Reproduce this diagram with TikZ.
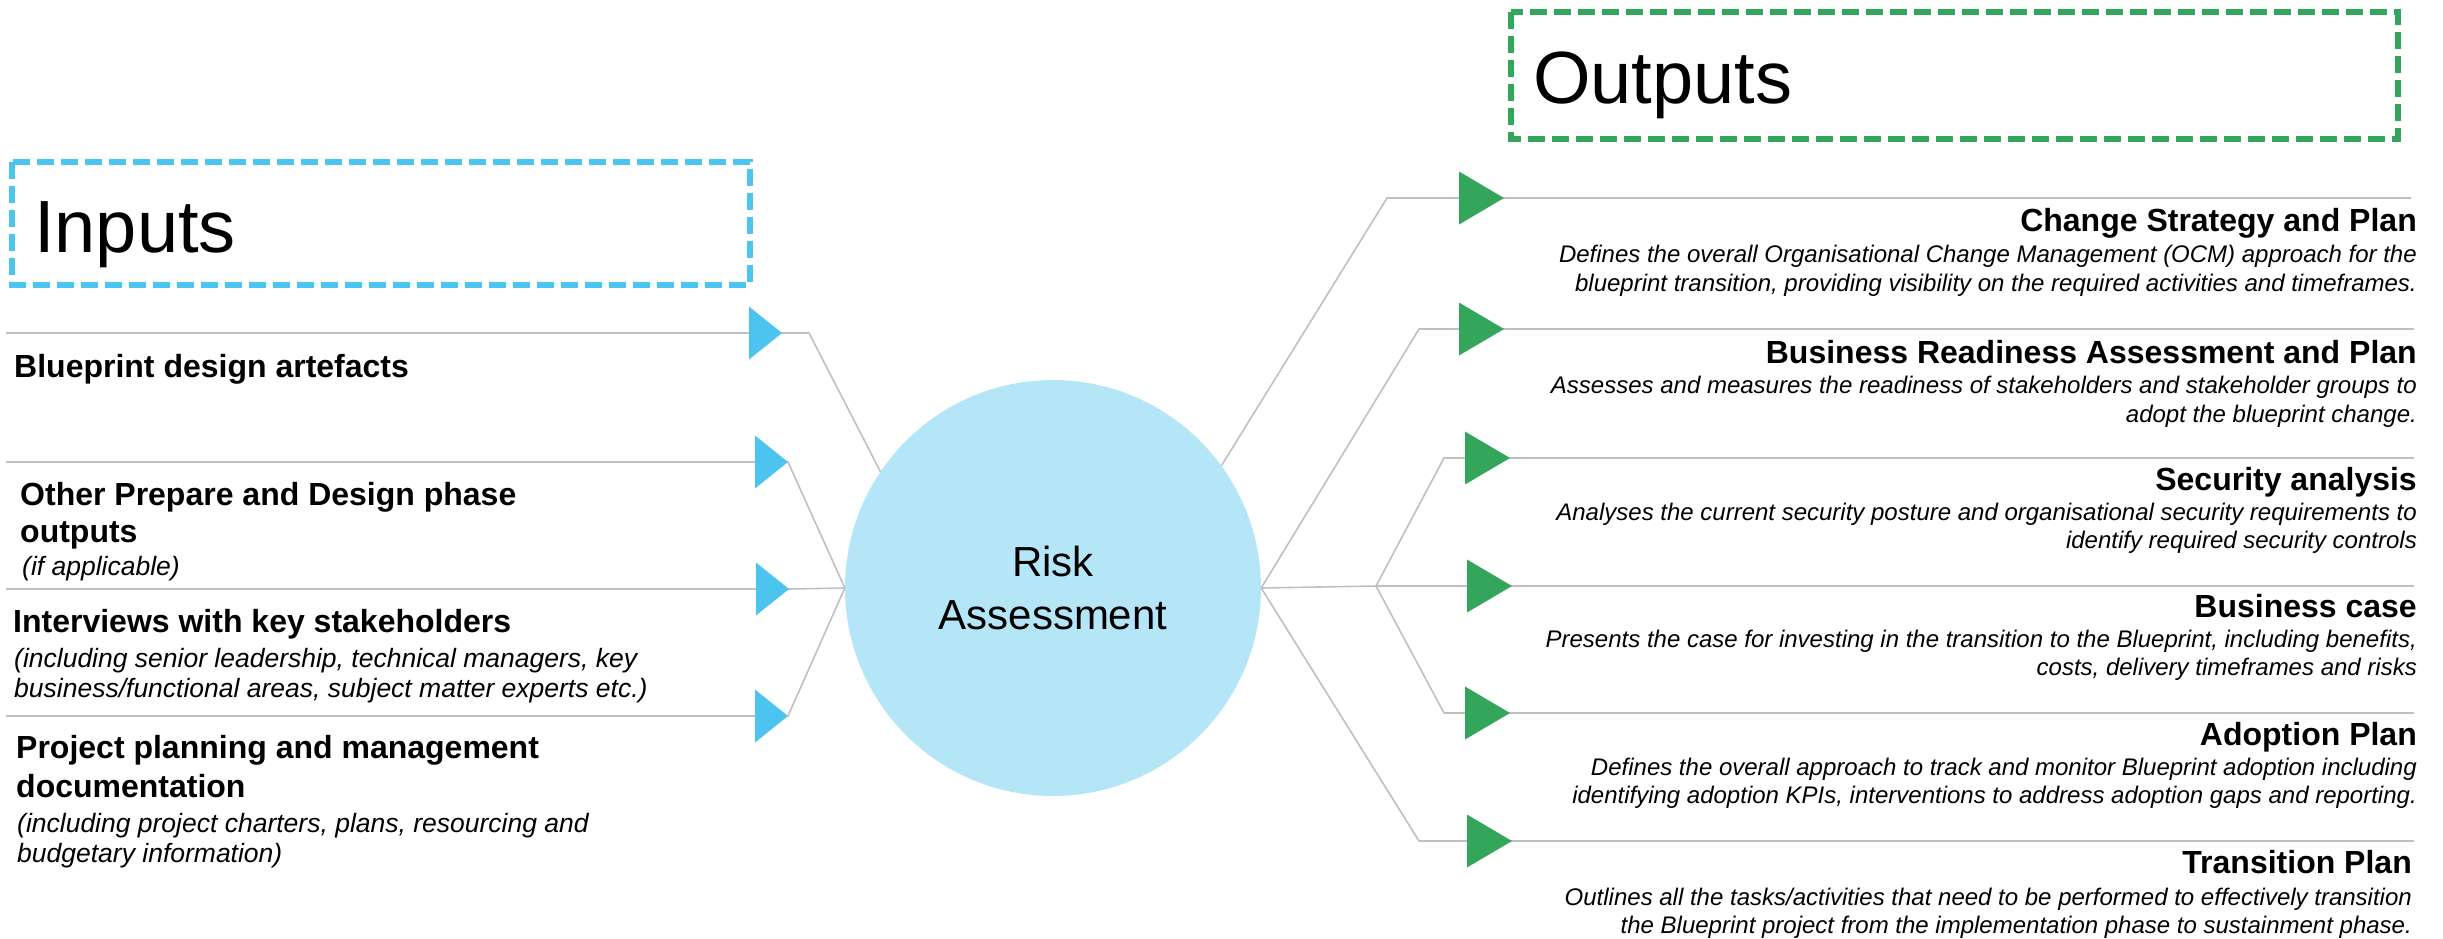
\documentclass[tikz,border=0pt]{standalone}
\usepackage{fontspec}
\setmainfont{Liberation Sans}
\definecolor{inblue}{HTML}{4BC4F0}
\definecolor{circfill}{HTML}{B5E6F7}
\definecolor{outgreen}{HTML}{34A65B}
\definecolor{linegray}{HTML}{C0C0C0}
\begin{document}
\begin{tikzpicture}[x=1pt,y=-1pt,
  conn/.style={draw=linegray, line width=1.6pt, line join=round},
  headbox/.style={draw, line width=5.5pt, dash pattern=on 17pt off 7pt, inner sep=0pt},
  headtext/.style={font=\fontsize{74}{88}\selectfont, inner sep=0pt, anchor=base west},
  lbold/.style={font=\fontsize{32}{38}\selectfont\bfseries, inner sep=0pt, anchor=base west},
  lnote/.style={font=\fontsize{26.5}{30}\selectfont\itshape, inner sep=0pt, anchor=base west},
  rbold/.style={font=\fontsize{32}{38}\selectfont\bfseries, inner sep=0pt, anchor=base east},
  rnote/.style={font=\fontsize{24}{29}\selectfont\itshape, inner sep=0pt, anchor=base east},
  intri/.pic={\fill[inblue] (-33,-26.5) -- (0,0) -- (-33,26.5) -- cycle;},
  outtri/.pic={\fill[outgreen] (-45,-26.5) -- (0,0) -- (-45,26.5) -- cycle;}
]
\useasboundingbox (0,0) rectangle (2443,938);

% ---------- headings ----------
\draw[headbox, draw=inblue] (12,162) rectangle (750,285);
\node[headtext] (inhead) at (34,252) {Inputs};
\draw[headbox, draw=outgreen] (1511,12) rectangle (2398,139);
\node[headtext] (outhead) at (1533,103) {Outputs};

% ---------- central process ----------
\node[circle, fill=circfill, minimum size=416pt, inner sep=0pt, align=center,
      font=\fontsize{42}{53}\selectfont] (risk) at (1053,588) {Risk\\Assessment};

% ---------- input rails ----------
\coordinate (i1s) at (6,333);   \coordinate (i1t) at (782,333); \coordinate (i1b) at (809,333);
\coordinate (i2s) at (6,462);   \coordinate (i2t) at (788,462);
\coordinate (i3s) at (6,589);   \coordinate (i3t) at (789,589);
\coordinate (i4s) at (6,716);   \coordinate (i4t) at (788,716);

\draw[conn] (i1s) -- (i1b) -- (risk.146.8);
\draw[conn] (i2s) -- (i2t) -- (risk.west);
\draw[conn] (i3s) -- (i3t) -- (risk.west);
\draw[conn] (i4s) -- (i4t) -- (risk.west);

\pic at (i1t) {intri};
\pic at (i2t) {intri};
\pic at (i3t) {intri};
\pic at (i4t) {intri};

% ---------- output rails ----------
\coordinate (hub) at (1376,586);
\coordinate (oAs) at (1387,198);  \coordinate (oAt) at (1504,198);  \coordinate (oAe) at (2411,198);
\coordinate (oBs) at (1419,329);  \coordinate (oBt) at (1504,329);  \coordinate (oBe) at (2414,329);
\coordinate (oCs) at (1444,458);  \coordinate (oCt) at (1510,458);  \coordinate (oCe) at (2414,458);
\coordinate (oDt) at (1512,586);  \coordinate (oDe) at (2414,586);
\coordinate (oEs) at (1444,713);  \coordinate (oEt) at (1510,713);  \coordinate (oEe) at (2414,713);
\coordinate (oFs) at (1419,841);  \coordinate (oFt) at (1512,841);  \coordinate (oFe) at (2414,841);

\draw[conn] (risk.36) -- (oAs) -- (oAe);
\draw[conn] (risk.east) -- (oBs) -- (oBe);
\draw[conn] (risk.east) -- (hub) -- (oDe);
\draw[conn] (hub) -- (oCs) -- (oCe);
\draw[conn] (hub) -- (oEs) -- (oEe);
\draw[conn] (risk.east) -- (oFs) -- (oFe);

\pic at (oAt) {outtri};
\pic at (oBt) {outtri};
\pic at (oCt) {outtri};
\pic at (oDt) {outtri};
\pic at (oEt) {outtri};
\pic at (oFt) {outtri};

% ---------- input labels ----------
\node[lbold] (in1) at (14,377) {Blueprint design artefacts};

\node[lbold] (in2a) at (20,505) {Other Prepare and Design phase};
\node[lbold] (in2b) at (20,542) {outputs};
\node[lnote] (in2c) at (22,575) {(if applicable)};

\node[lbold] (in3a) at (13,632) {Interviews with key stakeholders};
\node[lnote] (in3b) at (14,667) {(including senior leadership, technical managers, key};
\node[lnote] (in3c) at (14,697) {business/functional areas, subject matter experts etc.)};

\node[lbold] (in4a) at (16,758) {Project planning and management};
\node[lbold] (in4b) at (16,797) {documentation};
\node[lnote] (in4c) at (17,832) {(including project charters, plans, resourcing and};
\node[lnote] (in4d) at (17,862) {budgetary information)};

% ---------- output labels ----------
\node[rbold] (outA) at (2417,231) {Change Strategy and Plan};
\node[rnote] (outA1) at (2417,262) {Defines the overall Organisational Change Management (OCM) approach for the};
\node[rnote] (outA2) at (2417,291) {blueprint transition, providing visibility on the required activities and timeframes.};

\node[rbold] (outB) at (2417,363) {Business Readiness Assessment and Plan};
\node[rnote] (outB1) at (2417,393) {Assesses and measures the readiness of stakeholders and stakeholder groups to};
\node[rnote] (outB2) at (2417,422) {adopt the blueprint change.};

\node[rbold] (outC) at (2417,490) {Security analysis};
\node[rnote] (outC1) at (2417,520) {Analyses the current security posture and organisational security requirements to};
\node[rnote] (outC2) at (2417,548) {identify required security controls};

\node[rbold] (outD) at (2417,617) {Business case};
\node[rnote] (outD1) at (2417,647) {Presents the case for investing in the transition to the Blueprint, including benefits,};
\node[rnote] (outD2) at (2417,675) {costs, delivery timeframes and risks};

\node[rbold] (outE) at (2417,745) {Adoption Plan};
\node[rnote] (outE1) at (2417,775) {Defines the overall approach to track and monitor Blueprint adoption including};
\node[rnote] (outE2) at (2417,803) {identifying adoption KPIs, interventions to address adoption gaps and reporting.};

\node[rbold] (outF) at (2412,873) {Transition Plan};
\node[rnote] (outF1) at (2412,905) {Outlines all the tasks/activities that need to be performed to effectively transition};
\node[rnote] (outF2) at (2412,933) {the Blueprint project from the implementation phase to sustainment phase.};
\end{tikzpicture}
\end{document}
